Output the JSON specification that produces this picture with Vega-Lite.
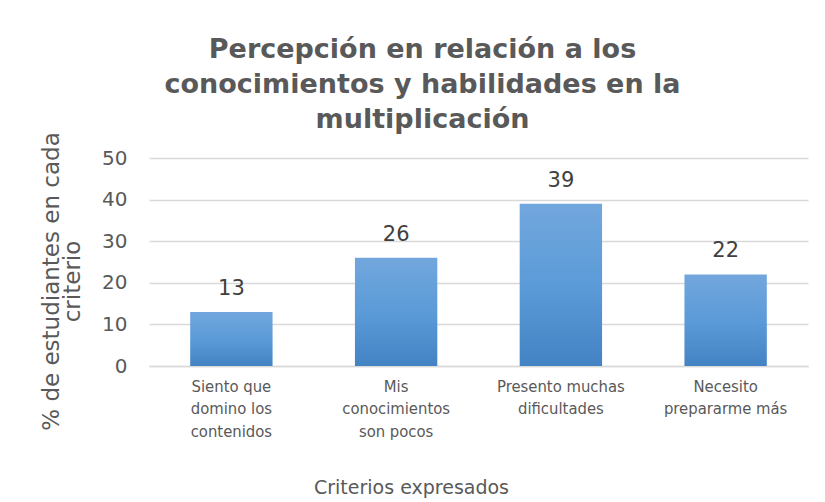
{
  "$schema": "https://vega.github.io/schema/vega-lite/v6.json",
  "autosize": {"type": "none"},
  "width": 659,
  "height": 208,
  "padding": {"left": 149, "top": 158, "right": 17, "bottom": 136},
  "background": "white",
  "config": {"view": {"stroke": null}},
  "title": {
    "text": ["Percepción en relación a los", "conocimientos y habilidades en la", "multiplicación"],
    "font": "DejaVu Sans",
    "fontSize": 27,
    "fontWeight": "bold",
    "color": "#595959",
    "lineHeight": 35,
    "anchor": "middle",
    "dx": -56,
    "offset": -2
  },
  "data": {
    "values": [
      {"criterio": "Siento que|domino los|contenidos", "porcentaje": 13},
      {"criterio": "Mis|conocimientos|son pocos", "porcentaje": 26},
      {"criterio": "Presento muchas|dificultades", "porcentaje": 39},
      {"criterio": "Necesito|prepararme más", "porcentaje": 22}
    ]
  },
  "encoding": {
    "x": {
      "field": "criterio",
      "type": "nominal",
      "sort": null,
      "scale": {"paddingInner": 0.5, "paddingOuter": 0.25},
      "axis": {
        "labelAngle": 0,
        "labelExpr": "split(datum.label, '|')",
        "labelFont": "DejaVu Sans Condensed",
        "labelFontSize": 16.5,
        "labelLineHeight": 22.5,
        "labelColor": "#595959",
        "labelPadding": 12,
        "labelLimit": 300,
        "labelBaseline": "top",
        "ticks": false,
        "domainColor": "#d9d9d9",
        "domainWidth": 1.3,
        "title": "Criterios expresados",
        "titleFont": "DejaVu Sans",
        "titleFontSize": 19,
        "titleFontWeight": "normal",
        "titleColor": "#595959",
        "titleX": 262,
        "titleY": 121,
        "titleBaseline": "middle",
        "titleAlign": "center"
      }
    },
    "y": {
      "field": "porcentaje",
      "type": "quantitative",
      "scale": {"domain": [0, 50], "nice": false},
      "axis": {
        "values": [0, 10, 20, 30, 40, 50],
        "labelFont": "DejaVu Sans",
        "labelFontSize": 20,
        "labelColor": "#595959",
        "labelPadding": 22,
        "domain": false,
        "ticks": false,
        "gridColor": "#d9d9d9",
        "gridWidth": 1.3,
        "title": ["% de estudiantes en cada", "criterio"],
        "titleFont": "DejaVu Sans",
        "titleFontSize": 23,
        "titleFontWeight": "normal",
        "titleColor": "#595959",
        "titleAngle": 270,
        "titleAlign": "center",
        "titleBaseline": "alphabetic",
        "titleLineHeight": 21,
        "titleX": -91,
        "titleY": 123
      }
    }
  },
  "layer": [
    {
      "mark": {
        "type": "bar",
        "color": {
          "gradient": "linear",
          "x1": 0, "y1": 0, "x2": 0, "y2": 1,
          "stops": [
            {"offset": 0, "color": "#72a7dd"},
            {"offset": 0.5, "color": "#5b9bd8"},
            {"offset": 1, "color": "#4383c4"}
          ]
        }
      }
    },
    {
      "mark": {
        "type": "text",
        "baseline": "alphabetic",
        "dy": -17,
        "font": "DejaVu Sans",
        "fontSize": 21,
        "color": "#404040"
      },
      "encoding": {"text": {"field": "porcentaje", "type": "quantitative"}}
    }
  ]
}
